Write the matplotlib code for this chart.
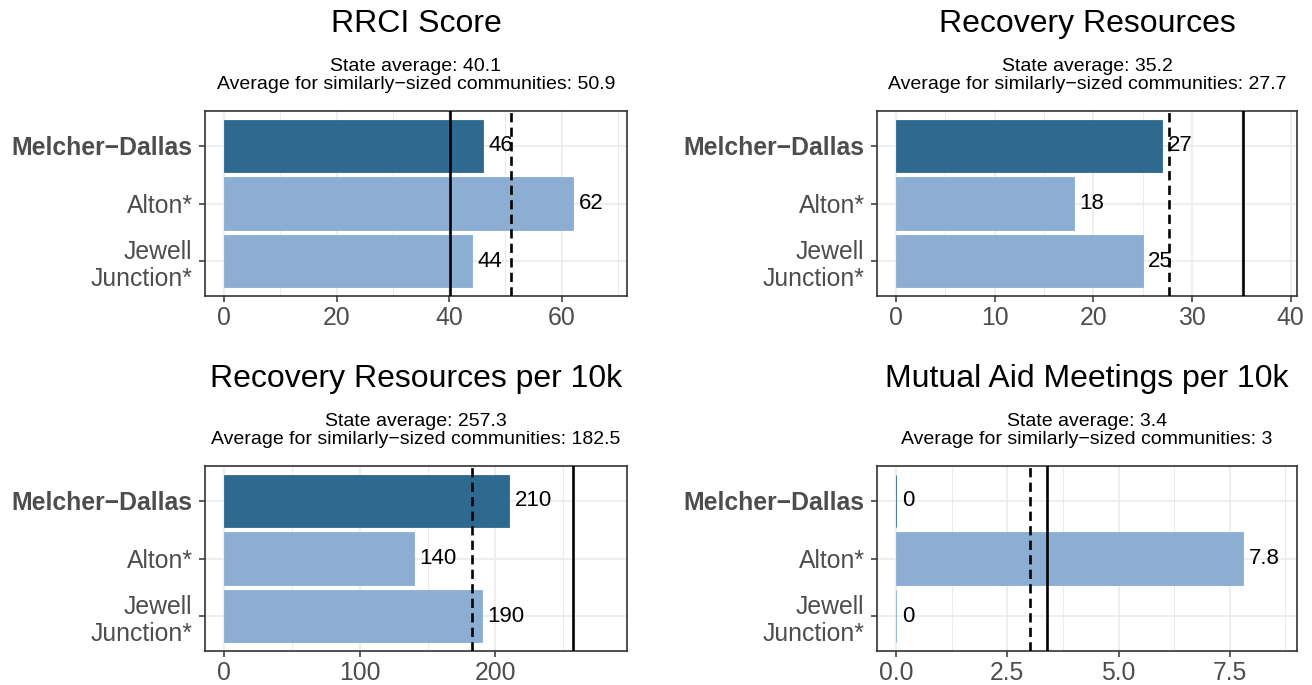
import matplotlib
matplotlib.use('Agg')
import matplotlib.pyplot as plt
from matplotlib.ticker import AutoMinorLocator

plt.rcParams['font.family'] = ['Liberation Sans', 'DejaVu Sans']

towns = ['Melcher\u2212Dallas', 'Alton*', 'Jewell\nJunction*']
titles = ['RRCI Score', 'Recovery Resources',
          'Recovery Resources per 10k', 'Mutual Aid Meetings per 10k']
rrci = [46, 62, 44]
resources = [27, 18, 25]
resources_10k = [210, 140, 190]
meetings_10k = [0, 7.8, 0]
state_avg = [40.1, 35.2, 257.3, 3.4]
similar_avg = [50.9, 27.7, 182.5, 3]
ticks = [[0, 20, 40, 60], [0, 10, 20, 30, 40], [0, 100, 200], [0, 2.5, 5, 7.5]]
tick_labels = [['0', '20', '40', '60'], ['0', '10', '20', '30', '40'],
               ['0', '100', '200'], ['0.0', '2.5', '5.0', '7.5']]

dark = '#2E6A8F'
light = '#8CAED2'
grey_txt = '#4D4D4D'

W, H = 1312, 685
fig = plt.figure(figsize=(W / 100, H / 100), dpi=100)

# pixel boxes: left, top, width, height
boxes = [(205, 111, 422, 185), (877, 111, 420, 185),
         (205, 466, 422, 185), (877, 466, 420, 185)]
values = [rrci, resources, resources_10k, meetings_10k]

for i, (vals, box) in enumerate(zip(values, boxes)):
    l, t, w, h = box
    ax = fig.add_axes([l / W, (H - t - h) / H, w / W, h / H])
    ypos = [3, 2, 1]
    cols = [dark, light, light]
    ax.barh(ypos, vals, height=0.9, color=cols, edgecolor=cols, linewidth=0.6, zorder=2)
    top = max(max(vals), state_avg[i], similar_avg[i]) * 1.1
    ax.set_xlim(-0.05 * top, 1.05 * top)
    ax.set_ylim(0.4, 3.6)
    ax.axvline(state_avg[i], color='black', lw=1.9, zorder=3)
    ax.axvline(similar_avg[i], color='black', lw=1.9, ls=(0, (3.5, 2)), zorder=3)
    for y, v in zip(ypos, vals):
        ax.annotate(f'{v:g}', (v, y), xytext=(4, 0), textcoords='offset points',
                    ha='left', va='center', fontsize=16, zorder=4)
    ax.set_xticks(ticks[i])
    ax.set_xticklabels(tick_labels[i])
    ax.xaxis.set_minor_locator(AutoMinorLocator(2))
    ax.set_yticks(ypos)
    ax.set_yticklabels(towns, linespacing=1.15)
    ax.get_yticklabels()[0].set_fontweight('bold')
    ax.tick_params(axis='both', which='major', length=4.5, width=1.1, color='#333333',
                   labelsize=17.8, labelcolor=grey_txt, pad=2.5)
    ax.tick_params(axis='y', which='major', pad=4.5)
    ax.tick_params(axis='x', which='minor', length=0)
    ax.grid(which='major', color='#EBEBEB', lw=1.2, zorder=0)
    ax.grid(which='minor', axis='x', color='#EBEBEB', lw=0.7, zorder=0)
    ax.set_axisbelow(True)
    for s in ax.spines.values():
        s.set_color('#333333')
        s.set_linewidth(1.2)
    cx = (l + w / 2) / W
    fig.text(cx, (H - t + 87) / H, titles[i], ha='center', va='center', fontsize=23)
    sub = f'State average: {state_avg[i]:g}\nAverage for similarly\u2212sized communities: {similar_avg[i]:g}'
    fig.text(cx, (H - t + 35.5) / H, sub, ha='center', va='center', fontsize=14,
             linespacing=1.12)

fig.savefig('out.png', dpi=100)
